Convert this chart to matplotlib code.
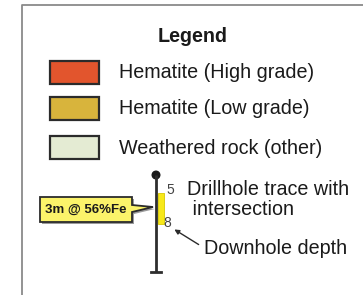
import matplotlib.pyplot as plt
from matplotlib.patches import Rectangle, Polygon, Circle

plt.rcParams['font.family'] = ['Liberation Sans', 'DejaVu Sans']

# legend content
title = "Legend"
unit_labels = ["Hematite (High grade)", "Hematite (Low grade)", "Weathered rock (other)"]
unit_colors = ["#E2552D", "#D8B43C", "#E4EBD3"]
hole_from, hole_to = 5, 8
hole_grade = "3m @ 56%Fe"
trace_label = "Drillhole trace with\n intersection"
depth_label = "Downhole depth"

W, H = 363, 295
fig = plt.figure(figsize=(W / 100, H / 100), dpi=100)
ax = fig.add_axes([0, 0, 1, 1])
ax.set_xlim(0, W)
ax.set_ylim(H, 0)
ax.axis('off')

# frame (only left and top visible)
ax.plot([22, 22, W + 5], [H + 5, 5, 5], color='#8a8a8a', lw=1.3)

ax.text(193, 37, title, fontsize=14.2, fontweight='bold', ha='center', va='center', color='#1a1a1a')

row_y = [72, 108.5, 147.5]
for y, lab, col in zip(row_y, unit_labels, unit_colors):
    ax.add_patch(Rectangle((50, y - 11.5), 49, 23, facecolor=col, edgecolor='#2b2b2b', lw=1.6))
    ax.text(119, y + 0.5, lab, fontsize=14.2, ha='left', va='center', color='#1a1a1a')

# drillhole trace
hx = 156
top, bot = 175, 272
ax.plot([hx, hx], [top, bot], color='#2e2e2e', lw=2, solid_capstyle='butt')
ax.plot([hx - 5, hx + 5], [bot, bot], color='#2e2e2e', lw=2)
ax.add_patch(Circle((hx, top), 3.8, color='#1a1a1a'))

# intersection interval
y5, y8 = 193, 224
ax.add_patch(Rectangle((hx + 1.5, y5), 6, y8 - y5, facecolor='#F7E81A', edgecolor='#d8c800', lw=0.6))
ax.text(hx + 14, y5 - 3, str(hole_from), fontsize=10, ha='center', va='center', color='#444444')
ax.text(hx + 11, y8 - 1, str(hole_to), fontsize=10, ha='center', va='center', color='#444444')

# callout box with shadow
bx0, bx1, by0, by1 = 40, 132, 197, 222
tip = (hx - 3, 207)
pts = [(bx0, by0), (bx1, by0), (bx1, 205), tip, (bx1, 212), (bx1, by1), (bx0, by1)]
ax.add_patch(Polygon([(x + 2, y + 2) for x, y in pts], closed=True, facecolor='#9a9a9a', edgecolor='none'))
ax.add_patch(Polygon(pts, closed=True, facecolor='#FBF36A', edgecolor='#2b2b2b', lw=1.3))
ax.text((bx0 + bx1) / 2, (by0 + by1) / 2 + 0.5, hole_grade, fontsize=9.5, fontweight='bold',
        ha='center', va='center', color='#1a1a1a')

ax.text(187, 199.5, trace_label, fontsize=14.2, ha='left', va='center', color='#1a1a1a', linespacing=1.12)

ax.annotate('', xy=(172, 228), xytext=(201, 246),
            arrowprops=dict(arrowstyle='-|>', color='#2b2b2b', lw=1, mutation_scale=7))
ax.text(204, 248, depth_label, fontsize=14.2, ha='left', va='center', color='#1a1a1a')

fig.savefig('out.png', dpi=100, facecolor='white')
